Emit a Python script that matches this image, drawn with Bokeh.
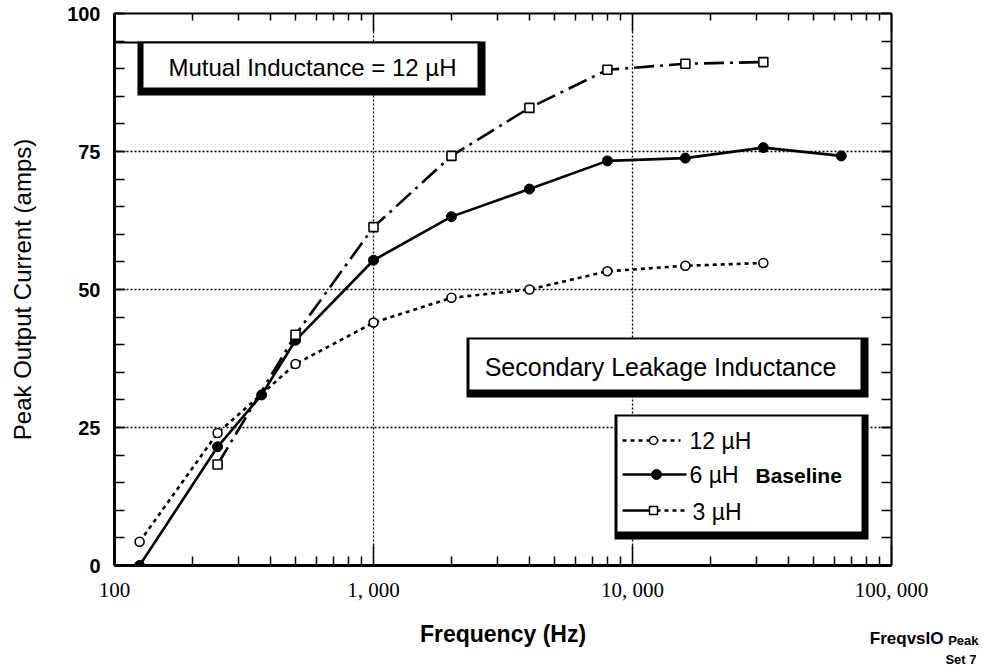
import math
from bokeh.plotting import figure
from bokeh.models import Range1d, LogAxis, LinearAxis, FixedTicker, Label
from bokeh.embed import file_html
from bokeh.resources import INLINE

# ---------------- data ----------------
freq_12 = [125, 250, 500, 1000, 2000, 4000, 8000, 16000, 32000]
amps_12 = [4.3, 24.0, 36.5, 44.0, 48.5, 50.0, 53.3, 54.3, 54.8]

freq_6 = [125, 250, 370, 500, 1000, 2000, 4000, 8000, 16000, 32000, 64000]
amps_6 = [0.0, 21.5, 30.9, 40.8, 55.3, 63.2, 68.2, 73.3, 73.8, 75.7, 74.2]

freq_3 = [250, 500, 1000, 2000, 4000, 8000, 16000, 32000]
amps_3 = [18.3, 41.8, 61.3, 74.2, 82.9, 89.8, 90.9, 91.2]

x_major = [100, 1000, 10000, 100000]
x_labels = ["100", "1, 000", "10, 000", "100, 000"]
y_major = [0, 25, 50, 75, 100]

legend_labels = ["12 µH", "6 µH", "3 µH"]

# ---------------- layout helpers (pixel -> data) ----------------
X0, DEC, Y0, PPU = 114, 259.0, 565, 5.52
def fx(px):
    return 10 ** (2 + (px - X0) / DEC)
def fy(py):
    return (Y0 - py) / PPU

SANS = "Liberation Sans"
SERIF = "Liberation Serif"

p = figure(width=983, height=668, x_axis_type="log",
           x_range=Range1d(100, 100000), y_range=Range1d(0, 100),
           output_backend="svg", toolbar_location=None,
           min_border_left=114, min_border_right=92,
           min_border_top=13, min_border_bottom=103)
p.outline_line_color = None
p.background_fill_color = "white"
p.border_fill_color = "white"

minor_x = [m * d for d in (100, 1000, 10000) for m in range(2, 10)]
minor_y = list(range(0, 101, 5))

# bottom axis
xa = p.xaxis[0]
xa.ticker = FixedTicker(ticks=x_major, minor_ticks=minor_x)
xa.major_label_overrides = dict(zip(x_major, x_labels))
xa.major_label_text_font = SERIF
xa.major_label_text_font_size = "21px"
xa.major_label_text_color = "black"
xa.major_label_standoff = 12
xa.axis_line_width = 3
xa.axis_line_color = "black"
xa.major_tick_in = 20
xa.major_tick_out = 0
xa.minor_tick_in = 9
xa.minor_tick_out = 0
xa.major_tick_line_width = 1.5
xa.minor_tick_line_width = 1.5
xa.axis_label = "Frequency (Hz)"
xa.axis_label_text_font = SANS
xa.axis_label_text_font_style = "bold"
xa.axis_label_text_font_size = "23px"
xa.axis_label_text_color = "black"
xa.axis_label_standoff = 16

# left axis
ya = p.yaxis[0]
ya.ticker = FixedTicker(ticks=y_major, minor_ticks=minor_y)
ya.major_label_text_font = SANS
ya.major_label_text_font_style = "bold"
ya.major_label_text_font_size = "20px"
ya.major_label_text_color = "black"
ya.major_label_standoff = 14
ya.axis_line_width = 3
ya.major_tick_in = 11
ya.major_tick_out = 0
ya.minor_tick_in = 10
ya.minor_tick_out = 0
ya.major_tick_line_width = 1.5
ya.minor_tick_line_width = 1.5
ya.axis_label = "Peak Output Current (amps)"
ya.axis_label_text_font = SANS
ya.axis_label_text_font_style = "normal"
ya.axis_label_text_font_size = "24px"
ya.axis_label_text_color = "black"
ya.axis_label_standoff = 28

# top axis
ta = LogAxis(ticker=FixedTicker(ticks=x_major, minor_ticks=minor_x))
ta.major_label_text_font_size = "1px"
ta.major_label_text_color = None
ta.major_label_standoff = 0
ta.axis_line_width = 2
ta.major_tick_in = 18
ta.major_tick_out = 0
ta.minor_tick_in = 7
ta.minor_tick_out = 0
ta.major_tick_line_width = 1.5
ta.minor_tick_line_width = 1.5
p.add_layout(ta, "above")

# right axis
ra = LinearAxis(ticker=FixedTicker(ticks=y_major, minor_ticks=minor_y))
ra.major_label_text_font_size = "1px"
ra.major_label_text_color = None
ra.major_label_standoff = 0
ra.axis_line_width = 2
ra.major_tick_in = 10
ra.major_tick_out = 0
ra.minor_tick_in = 10
ra.minor_tick_out = 0
ra.major_tick_line_width = 1.5
ra.minor_tick_line_width = 1.5
p.add_layout(ra, "right")

# grids
p.xgrid.ticker = FixedTicker(ticks=[1000, 10000])
p.ygrid.ticker = FixedTicker(ticks=[25, 50, 75])
for g in (p.xgrid[0], p.ygrid[0]):
    g.grid_line_color = "black"
    g.grid_line_width = 1.3
    g.grid_line_dash = "2 2"

# ---------------- boxes (outer black = border + shadow, inner white) ----------------
def framed_box(l, t, r, b, inner):
    il, it, ir, ib = inner
    p.quad(left=[fx(l)], right=[fx(r)], top=[fy(t)], bottom=[fy(b)],
           fill_color="black", line_color=None)
    p.quad(left=[fx(il)], right=[fx(ir)], top=[fy(it)], bottom=[fy(ib)],
           fill_color="white", line_color=None)

# mutual inductance box (top edge continues to axis)
p.line(x=[fx(114), fx(480)], y=[fy(42), fy(42)], line_color="black", line_width=2)
framed_box(137, 41, 485, 95, (143, 43, 477, 87))
# secondary leakage inductance box
framed_box(466, 337, 868, 397, (469, 339, 860, 389))
# legend box
framed_box(614, 414, 868, 539, (617, 416, 861, 531))

# ---------------- data series ----------------
p.line(freq_12, amps_12, line_color="black", line_width=2.6, line_dash="4 4")
p.scatter(freq_12, amps_12, marker="circle", size=9, fill_color="white",
          line_color="black", line_width=1.6)

p.line(freq_6, amps_6, line_color="black", line_width=2.6)
p.scatter(freq_6, amps_6, marker="circle", size=10, fill_color="black",
          line_color="black")

p.line(freq_3, amps_3, line_color="black", line_width=2.6, line_dash="20 6 3 6")
p.scatter(freq_3, amps_3, marker="square", size=9, fill_color="white",
          line_color="black", line_width=1.6)

# ---------------- legend samples ----------------
ly = [fy(440), fy(474), fy(510)]
p.line([fx(622), fx(680)], [ly[0], ly[0]], line_color="black", line_width=2.4, line_dash="4 4")
p.scatter([fx(653)], [ly[0]], marker="circle", size=8, fill_color="white", line_color="black", line_width=1.5)
p.line([fx(622), fx(686)], [ly[1], ly[1]], line_color="black", line_width=2.4)
p.scatter([fx(656)], [ly[1]], marker="circle", size=10, fill_color="black", line_color="black")
p.line([fx(622), fx(650)], [ly[2], ly[2]], line_color="black", line_width=2.4)
p.line([fx(656), fx(688)], [ly[2], ly[2]], line_color="black", line_width=2.4, line_dash="4 4")
p.scatter([fx(653)], [ly[2]], marker="square", size=8, fill_color="white", line_color="black", line_width=1.5)

def lab(x, y, text, size, font=SANS, style="normal", align="left", place=None):
    l = Label(x=x, y=y, text=text, text_font=font,
              text_font_size=size, text_font_style=style,
              text_align=align, text_baseline="middle",
              text_color="black")
    if place:
        p.add_layout(l, place)
    else:
        p.add_layout(l)

lab(fx(689), fy(440), legend_labels[0], "23px")
lab(fx(689), fy(474), legend_labels[1], "23px")
lab(fx(755), fy(475), "Baseline", "21px", style="bold")
lab(fx(692), fy(511), legend_labels[2], "23px")

lab(fx(312), fy(67), "Mutual Inductance = 12 µH", "24px", align="center")
lab(fx(660), fy(366), "Secondary Leakage Inductance", "25px", align="center")

# corner note (outside the frame, placed in side panels so it is not clipped)
lab(fx(943), fy(638), "FreqvsIO", "17px", style="bold", align="right", place="below")
lab(fx(978), fy(640), "Peak", "13px", style="bold", align="right", place="right")
lab(fx(976), fy(659), "Set 7", "13px", style="bold", align="right", place="right")

open("out.html", "w").write(file_html(p, INLINE))
